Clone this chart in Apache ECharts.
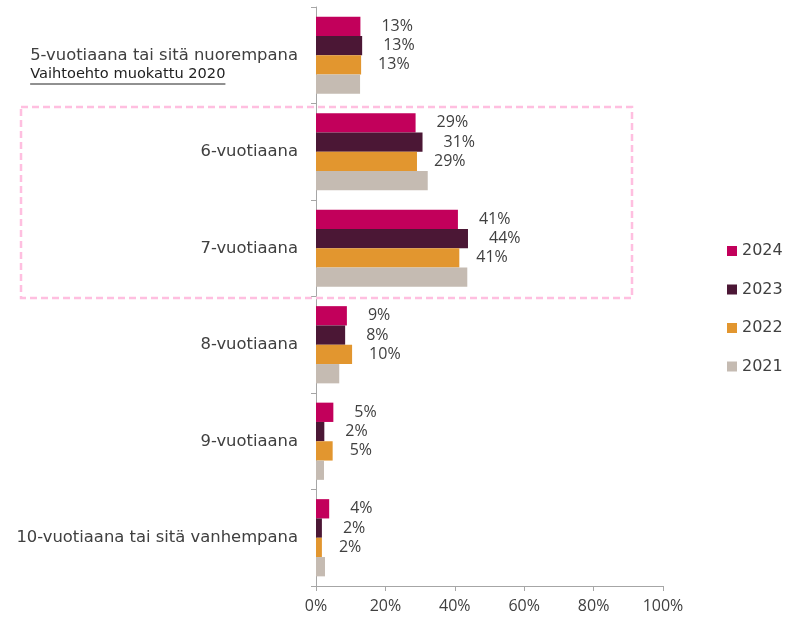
<!DOCTYPE html>
<html>
<head>
<meta charset="utf-8">
<script src="https://cdn.jsdelivr.net/npm/echarts@6/dist/echarts.min.js"></script>
<style>
  html, body { margin: 0; padding: 0; background: #fff; }
  #main { width: 804px; height: 620px; }
</style>
</head>
<body>
<div id="main"></div>
<script>
var chart = echarts.init(document.getElementById('main'));

var categories = [
    '5-vuotiaana tai sitä nuorempana',
    '6-vuotiaana',
    '7-vuotiaana',
    '8-vuotiaana',
    '9-vuotiaana',
    '10-vuotiaana tai sitä vanhempana'
];
var note = 'Vaihtoehto muokattu 2020';

var years = ['2024', '2023', '2022', '2021'];
var v2024 = [12.8, 28.7, 40.9, 8.9, 5.0, 3.8];
var v2023 = [13.3, 30.7, 43.8, 8.4, 2.4, 1.7];
var v2022 = [13.0, 29.1, 41.3, 10.4, 4.8, 1.7];
var v2021 = [12.7, 32.2, 43.6, 6.7, 2.3, 2.6];

var colors = ['#C2005B', '#4B1735', '#E2962F', '#C5BBB2'];
var labelGap = [21, 21, 17];

var font = 'Open Sans';
var catFont = 'DejaVu Sans';
var catSize = 16.4;
var noteSize = 14.6;
var txt = '#404040';

// measure text so the note line can start where the first line starts
var cv = document.createElement('canvas').getContext('2d');
cv.font = catSize + 'px "' + catFont + '"';
var w1 = cv.measureText(categories[0]).width;
cv.font = noteSize + 'px "' + catFont + '"';
var wNote = cv.measureText(note).width;

var gridLeft = 316;
var labelMargin = 18;
var textLeft = gridLeft - labelMargin - w1;

function mk(name, data, i) {
    var s = {
        name: name,
        type: 'bar',
        data: data,
        barGap: 0,
        barCategoryGap: '20%',
        itemStyle: { color: colors[i] },
        label: { show: false }
    };
    if (i < 3) {
        s.label = {
            show: true,
            position: 'right',
            distance: labelGap[i],
            color: txt,
            fontFamily: font,
            fontSize: 16,
            formatter: function (p) { return Math.round(p.value) + '%'; }
        };
    }
    return s;
}

var option = {
    backgroundColor: '#fff',
    animation: false,
    textStyle: { fontFamily: font },
    grid: { left: gridLeft, right: 141, top: 7, bottom: 34 },
    legend: {
        orient: 'vertical',
        left: 722,
        top: 238,
        itemWidth: 10,
        itemHeight: 10,
        itemGap: 22.5,
        icon: 'rect',
        textStyle: { fontFamily: catFont, fontSize: 16, color: txt },
        data: years
    },
    xAxis: {
        type: 'value',
        min: 0,
        max: 100,
        interval: 20,
        axisLine: { show: true, lineStyle: { color: '#A6A6A6' } },
        axisTick: { show: true, length: 5, lineStyle: { color: '#A6A6A6' } },
        splitLine: { show: false },
        axisLabel: { formatter: '{value}%', color: txt, fontFamily: font, fontSize: 16, margin: 12 }
    },
    yAxis: {
        type: 'category',
        inverse: true,
        data: categories,
        axisLine: { show: true, lineStyle: { color: '#A6A6A6' } },
        axisTick: { show: true, length: 5, lineStyle: { color: '#A6A6A6' } },
        axisLabel: {
            color: txt,
            fontFamily: catFont,
            fontSize: catSize,
            margin: labelMargin,
            formatter: function (v, idx) {
                if (idx === 0) {
                    return '{e| }\n{a|' + v + '}\n{u|' + note + '}';
                }
                return v;
            },
            rich: {
                e: { fontSize: 14, lineHeight: 19 },
                a: { fontSize: catSize, lineHeight: 19, color: txt, fontFamily: catFont },
                u: { fontSize: noteSize, lineHeight: 19, color: '#222', fontFamily: catFont, width: w1, align: 'left' }
            }
        }
    },
    graphic: [
        {
            type: 'rect',
            shape: { x: 21, y: 107, width: 611, height: 191 },
            style: { fill: 'none', stroke: '#FFBFE0', lineWidth: 2.5, lineDash: [7, 4] },
            z: 10
        },
        {
            type: 'line',
            shape: { x1: textLeft, y1: 84, x2: textLeft + wNote, y2: 84 },
            style: { stroke: '#222', lineWidth: 1 }
        }
    ],
    series: [
        mk('2024', v2024, 0),
        mk('2023', v2023, 1),
        mk('2022', v2022, 2),
        mk('2021', v2021, 3)
    ]
};

chart.setOption(option);
</script>
</body>
</html>
